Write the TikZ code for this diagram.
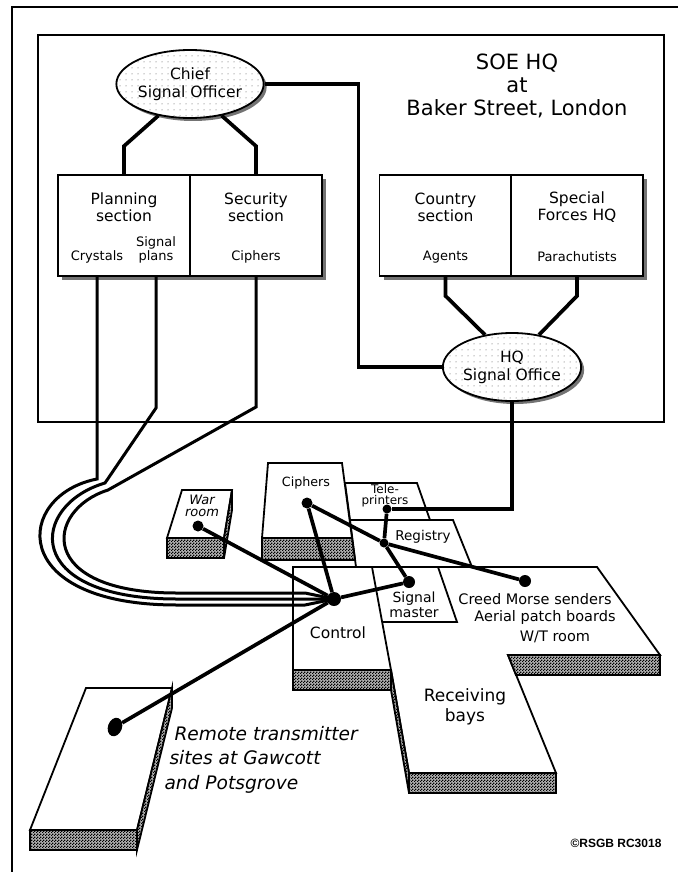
\documentclass[tikz,border=0pt]{standalone}
\usepackage{fontspec}
\setmainfont{DejaVu Sans}
\newfontfamily\copyfont{Liberation Sans}
\usetikzlibrary{shapes.geometric,shadows,patterns}

% fine checker for the slab faces, sparse dots for the offices
\pgfdeclarepatternformonly{fine checker}{\pgfqpoint{0pt}{0pt}}{\pgfqpoint{3pt}{3pt}}{\pgfqpoint{3pt}{3pt}}{%
  \pgfpathrectangle{\pgfqpoint{0pt}{0pt}}{\pgfqpoint{1.5pt}{1.5pt}}%
  \pgfpathrectangle{\pgfqpoint{1.5pt}{1.5pt}}{\pgfqpoint{1.5pt}{1.5pt}}%
  \pgfusepath{fill}}
\pgfdeclarepatternformonly{sparse dots}{\pgfqpoint{-1pt}{-1pt}}{\pgfqpoint{1pt}{1pt}}{\pgfqpoint{6pt}{6pt}}{%
  \pgfpathcircle{\pgfqpoint{0pt}{0pt}}{0.5pt}\pgfusepath{fill}}

\begin{document}
\begin{tikzpicture}[%
            x=1pt, y=-1pt,
            line join=miter,
            rim/.style={line width=1.8pt},
            wire/.style={line width=3.7pt},
            cable/.style={line width=3pt},
            cell/.style={%
            	rectangle,
            	draw, rim,
            	fill=white,
            	inner sep=0pt,
            	minimum width=132pt,
            	minimum height=101pt,
            	drop shadow={shadow xshift=4pt, shadow yshift=-4pt, fill=black!55, opacity=1}
            },
            oval/.style={%
            	ellipse,
            	draw, rim,
            	inner sep=0pt,
            	minimum width=134pt,
            	minimum height=68pt,
            	align=center,
            	font=\fontsize{15.5}{18}\selectfont,
            	drop shadow={shadow xshift=3pt, shadow yshift=-3pt, fill=black!55, opacity=1},
            	preaction={fill=white},
            	pattern=sparse dots,
            	pattern color=black!70
            },
            slab/.style={draw, rim, fill=white},
            face/.style={draw, rim, preaction={fill=black!30}, pattern=fine checker},
            blob/.style={circle, fill, inner sep=0pt, minimum size=#1},
            blob/.default=10pt,
            titletxt/.style={font=\fontsize{21}{23}\selectfont, align=center},
            headtxt/.style={font=\fontsize{15.5}{17}\selectfont, align=center},
            smalltxt/.style={font=\fontsize{13}{14}\selectfont, align=center}
            ]
            \useasboundingbox (0,0) rectangle (678,872);

            % frames
            \draw[rim] (12,872) -- (12,7) -- (678,7);
            \draw[rim] (38,35) rectangle (664,422);

            % headquarters
            \node[titletxt] (soe) at (517,86) {SOE HQ\\at\\Baker Street, London};
            \node[oval] (chief) at (190,84) {Chief\\Signal Officer};
            \node[oval] (hq) at (512,367) {HQ\\Signal Office};

            \node[cell] (plan) at (124,225.5) {};
            \node[cell] (sec) at (256,225.5) {};
            \node[cell] (country) at (445.5,225.5) {};
            \node[cell] (special) at (577,225.5) {};

            \node[headtxt] (plantxt) at (124,207) {Planning\\section};
            \node[headtxt] (sectxt) at (256,207) {Security\\section};
            \node[headtxt] (countrytxt) at (445.5,207) {Country\\section};
            \node[headtxt] (specialtxt) at (577,207) {Special\\Forces HQ};
            \node[smalltxt] (crystals) at (97,257) {Crystals};
            \node[smalltxt] (plans) at (156,250) {Signal\\plans};
            \node[smalltxt] (ciphers) at (256,257) {Ciphers};
            \node[smalltxt] (agents) at (445.5,257) {Agents};
            \node[smalltxt] (paras) at (577,257) {Parachutists};

            \draw[wire] (chief.225) -- ([yshift=28pt]plan.north) -- (plan.north);
            \draw[wire] (chief.315) -- ([yshift=28pt]sec.north) -- (sec.north);
            \draw[wire] (country.south) -- ([yshift=-19pt]country.south) -- (hq.130);
            \draw[wire] (special.south) -- ([yshift=-19pt]special.south) -- (hq.50);
            \draw[wire] (chief.east) -- ++(94,0) |- (hq.west);

            % rooms at the back
            \draw[slab] (345,483) -- (417,483) -- (430,520) -- (350,520) -- cycle;
            \draw[slab] (350,520) -- (453,520) -- (472,567) -- (356,567) -- cycle;
            \draw[slab] (268,463) -- (342,463) -- (352,538) -- (262,538) -- cycle;
            \draw[face] (262,538) -- (352,538) -- (355,560) -- (262,560) -- cycle;
            \draw[slab] (182,490) -- (232,490) -- (224,538) -- (167,538) -- cycle;
            \draw[face] (167,538) -- (224,538) -- (224,558) -- (167,558) -- cycle;
            \draw[face] (232,490) -- (224,538) -- (224,558) -- (232,510) -- cycle;

            % main floor
            \draw[slab] (293,567) -- (597,567) -- (660,655) -- (508,655) -- (556,773)
                -- (409,773) -- (391,670) -- (293,670) -- cycle;
            \draw[face] (293,670) -- (391,670) -- (391,690) -- (293,690) -- cycle;
            \draw[face] (391,670) -- (409,773) -- (409,793) -- (391,690) -- cycle;
            \draw[face] (409,773) -- (556,773) -- (556,793) -- (409,793) -- cycle;
            \draw[face] (508,655) -- (660,655) -- (660,675) -- (516,675) -- cycle;
            \draw[rim] (372,567) -- (391,670);
            \draw[rim] (382,622) -- (457,622) -- (438,567);

            % remote site
            \draw[slab] (86,688) -- (172,688) -- (137,830) -- (30,830) -- cycle;
            \draw[face] (30,830) -- (137,830) -- (137,850) -- (30,850) -- cycle;
            \draw[face] (172,688) -- (137,830) -- (137,850) -- (172,708) -- cycle;

            % room names
            \node[font=\fontsize{13}{12.5}\selectfont\itshape, align=center] (warlbl) at (202,506) {War\\room};
            \node[font=\fontsize{12.7}{14}\selectfont] (ciplbl) at (306,483) {Ciphers};
            \node[font=\fontsize{12}{11}\selectfont, align=center] (telelbl) at (385,496) {Tele-\\printers};
            \node[font=\fontsize{13.5}{14}\selectfont] (reglbl) at (423,537) {Registry};
            \node[font=\fontsize{14}{15}\selectfont, align=center] (smlbl) at (414,605) {Signal\\master};
            \node[font=\fontsize{15.5}{17}\selectfont] (ctrllbl) at (338,633) {Control};
            \node[font=\fontsize{14.5}{16}\selectfont] (creedlbl) at (535,599) {Creed Morse senders};
            \node[font=\fontsize{14.5}{16}\selectfont] (aeriallbl) at (545,617) {Aerial patch boards};
            \node[font=\fontsize{14.5}{16}\selectfont] (wtlbl) at (555,637) {W/T room};
            \node[font=\fontsize{17}{20}\selectfont, align=center] (recvlbl) at (465,707) {Receiving\\bays};
            \node[font=\fontsize{18.6}{22}\selectfont\itshape, anchor=base west] (remlblA) at (171,740) {Remote transmitter};
            \node[font=\fontsize{18.6}{22}\selectfont\itshape, anchor=base west] (remlblB) at (166,764) {sites at Gawcott};
            \node[font=\fontsize{18.6}{22}\selectfont\itshape, anchor=base west] (remlblC) at (161,789) {and Potsgrove};
            \node[font=\copyfont\bfseries\fontsize{12}{12}\selectfont] (copy) at (616,843) {\textcopyright RSGB RC3018};

            % cables from the planning and security sections
            \coordinate (hub) at (334,599);
            \coordinate (kinkA) at (156,408);
            \coordinate (kinkB) at (256,407);
            \draw[cable] (crystals |- plan.south) -- (97,479)
                .. controls (15,495) and (5,605) .. (177,605) -- (305,605) -- (hub);
            \draw[cable] (plans |- plan.south) -- (kinkA) -- (105,483)
                .. controls (30,505) and (20,599) .. (177,599) -- (hub);
            \draw[cable] (ciphers |- sec.south) -- (kinkB) -- (108,490)
                .. controls (45,510) and (35,593) .. (177,593) -- (305,593) -- (hub);

            % signal points
            \node[blob=14pt] (ctrl) at (hub) {};
            \node[blob=11pt] (wardot) at (198,526) {};
            \node[blob=11pt] (cipdot) at (307,503) {};
            \node[blob=9pt] (teledot) at (387,509) {};
            \node[blob=9pt] (regdot) at (384,543) {};
            \node[blob=12pt] (smdot) at (409,582) {};
            \node[blob=12pt] (creeddot) at (525,581) {};
            \node[ellipse, fill, inner sep=0pt, minimum width=14pt, minimum height=19pt, rotate=-20] (remdot) at (115,727) {};

            \draw[wire] (wardot) -- (ctrl);
            \draw[wire] (cipdot) -- (ctrl);
            \draw[wire] (ctrl) -- (smdot);
            \draw[wire] (ctrl) -- (remdot);
            \draw[wire] (cipdot) -- (regdot) -- (creeddot);
            \draw[wire] (teledot) -- (regdot);
            \draw[wire] (regdot) -- (smdot);
            \draw[wire] (hq.south) |- (teledot);
            \end{tikzpicture}
\end{document}
